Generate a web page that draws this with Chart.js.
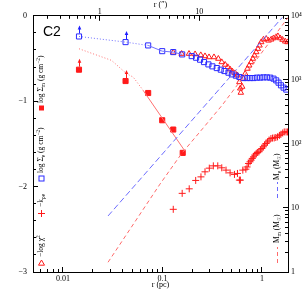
<!DOCTYPE html>
<html><head><meta charset="utf-8">
<script src="https://cdn.jsdelivr.net/npm/chart.js@4.4.1/dist/chart.umd.min.js"></script>
<style>html,body{margin:0;padding:0;background:#fff}canvas{display:block}</style>
</head><body>
<canvas id="c" width="305" height="305"></canvas>
<script>
// ---------- data ----------
// radii (pc) and log Sigma_e (blue open squares)
const rE = [0.0145, 0.0426, 0.0719, 0.0995, 0.1285, 0.158, 0.197, 0.218, 0.239, 0.262, 0.290, 0.318, 0.352, 0.386, 0.420, 0.461, 0.499, 0.547, 0.594, 0.653, 0.706, 0.762, 0.823, 0.891, 0.961, 1.038, 1.122, 1.212, 1.309, 1.393, 1.470, 1.555, 1.652, 1.758];
const sigmaE = [-0.242, -0.308, -0.347, -0.414, -0.425, -0.452, -0.472, -0.491, -0.514, -0.542, -0.569, -0.592, -0.612, -0.631, -0.647, -0.666, -0.686, -0.701, -0.717, -0.729, -0.729, -0.729, -0.729, -0.724, -0.724, -0.721, -0.721, -0.724, -0.736, -0.756, -0.783, -0.814, -0.841, -0.864];
const sigmaELineCount = 6;      // squares joined by the blue line
const sigmaEDottedUntil = 2;    // segments ending at index <= this are dotted
const sigmaELimits = [0, 1];    // lower limits (arrows)

// log Sigma_m (red filled squares)
const rM = [0.0145, 0.0426, 0.0719, 0.0995, 0.1285, 0.160];
const sigmaM = [-0.631, -0.764, -0.904, -1.223, -1.332, -1.605];
const sigmaMLimits = [0, 1];

// red model line
const rMLine = [0.0145, 0.0308, 0.0436, 0.0508, 0.0640, 0.1686];
const sigmaMLine = [-0.386, -0.522, -0.678, -0.717, -0.873, -1.585];
const sigmaMLineDottedUntil = 4;

// -log chi^2 (red open triangles)
const rChi = [0.1285, 0.156, 0.185, 0.213, 0.243, 0.268, 0.294, 0.330, 0.365, 0.395, 0.427, 0.454, 0.479, 0.505, 0.538, 0.567, 0.594, 0.606, 0.614, 0.633, 0.653, 0.679, 0.716, 0.745, 0.780, 0.811, 0.842, 0.877, 0.911, 0.946, 0.984, 1.038, 1.105, 1.166, 1.241, 1.309, 1.384, 1.449, 1.529, 1.613, 1.717, 1.811];
const logChi = [-0.429, -0.444, -0.444, -0.449, -0.460, -0.472, -0.484, -0.484, -0.502, -0.542, -0.572, -0.600, -0.627, -0.651, -0.671, -0.697, -0.776, -0.850, -0.900, -0.830, -0.736, -0.678, -0.619, -0.581, -0.542, -0.502, -0.464, -0.425, -0.386, -0.347, -0.308, -0.277, -0.269, -0.289, -0.277, -0.262, -0.250, -0.238, -0.262, -0.280, -0.300, -0.308];

// -k_rho,e (red plus)
const rK = [0.1285, 0.158, 0.186, 0.216, 0.244, 0.268, 0.296, 0.325, 0.360, 0.395, 0.436, 0.479, 0.530, 0.568, 0.594, 0.608, 0.643, 0.690, 0.710, 0.733, 0.760, 0.780, 0.800, 0.823, 0.850, 0.877, 0.900, 0.933, 0.970, 1.000, 1.030, 1.062, 1.100, 1.139, 1.180, 1.232, 1.280, 1.330, 1.380, 1.436, 1.500, 1.555, 1.620, 1.678, 1.750, 1.811];
const kRho = [-2.266, -2.079, -2.026, -1.928, -1.886, -1.827, -1.784, -1.757, -1.757, -1.780, -1.807, -1.839, -1.857, -1.846, -1.924, -1.924, -1.807, -1.796, -1.770, -1.729, -1.710, -1.690, -1.670, -1.652, -1.630, -1.612, -1.600, -1.593, -1.570, -1.554, -1.535, -1.515, -1.495, -1.477, -1.455, -1.437, -1.432, -1.430, -1.425, -1.418, -1.400, -1.387, -1.372, -1.360, -1.360, -1.360];

// enclosed masses (right axis, Msun)
const rMe = [0.0284, 1.60];
const massE = [7.5, 9400];
const rMm = [0.0284, 0.0944, 0.157, 0.256, 0.398, 1.60, 1.83];
const massM = [1.42, 23.5, 71.6, 176, 401, 7070, 9400];

// axes
const X_MIN = 0.005, X_MAX = 1.83;
const PC_PER_ARCSEC = 0.02344;
const xMajorTicks = [0.01, 0.1, 1];
const xTickLabels = ['0.01', '0.1', '1'];
const topMajorTicks = [1, 10];
const topTickLabels = ['1', '10'];
const yLeftMajor = [-3, -2, -1, 0];
const yLeftLabels = ['\u22123', '\u22122', '\u22121', '0'];
const yRightMajor = [1, 10, 100, 1000, 10000];
const yRightLabels = ['1', '10', '10\u00b2', '10\u00b3', '10\u2074'];

// ---------- helpers ----------
const pts = (xs, ys) => xs.map((x, i) => ({x: x, y: ys[i]}));
function logMinor(min, max) {
  const out = [];
  for (let e = Math.floor(Math.log10(min)); e <= Math.ceil(Math.log10(max)); e++) {
    for (let k = 1; k <= 9; k++) {
      const v = k * Math.pow(10, e);
      if (v >= min * 0.9999 && v <= max * 1.0001) out.push({value: v});
    }
  }
  return out;
}
const serif = 'Liberation Serif';
const tickFont = {family: serif, size: 8};
const RED = '#ff1a1a', BLUE = '#2b2bff';

function majorGrid() { return {drawOnChartArea: false, tickLength: -5, tickColor: '#000', tickWidth: 1}; }
function minorGrid() { return {drawOnChartArea: false, tickLength: -3, tickColor: '#000', tickWidth: 1}; }

// ---------- overlay: arrows, label, legends ----------
function arrow(ctx, x, yFrom, yTo, color) {
  ctx.save();
  ctx.strokeStyle = color; ctx.fillStyle = color; ctx.lineWidth = 1;
  ctx.beginPath(); ctx.moveTo(x, yFrom); ctx.lineTo(x, yTo + 3); ctx.stroke();
  ctx.beginPath(); ctx.moveTo(x, yTo); ctx.lineTo(x - 1.8, yTo + 4); ctx.lineTo(x + 1.8, yTo + 4); ctx.closePath(); ctx.fill();
  ctx.restore();
}
function vText(ctx, x, y, segs, size) {
  ctx.save(); ctx.translate(x, y); ctx.rotate(-Math.PI / 2);
  ctx.fillStyle = '#000'; ctx.textBaseline = 'middle'; ctx.textAlign = 'left';
  let cx = 0;
  for (const s of segs) {
    const fs = (s.sub || s.sup) ? size * 0.72 : size;
    ctx.font = fs + 'px "' + serif + '"';
    const dy = s.sub ? size * 0.3 : (s.sup ? -size * 0.35 : 0);
    ctx.fillText(s.t, cx, dy);
    cx += ctx.measureText(s.t).width;
  }
  ctx.restore();
}
function marker(ctx, kind, x, y, color) {
  ctx.save(); ctx.strokeStyle = color; ctx.fillStyle = color; ctx.lineWidth = 1;
  ctx.beginPath();
  if (kind === 'rectFill') { ctx.fillRect(x - 2.5, y - 2.5, 5, 5); }
  else if (kind === 'rect') { ctx.strokeRect(x - 2.5, y - 2.5, 5, 5); }
  else if (kind === 'cross') { ctx.moveTo(x - 3.5, y); ctx.lineTo(x + 3.5, y); ctx.moveTo(x, y - 3.5); ctx.lineTo(x, y + 3.5); ctx.stroke(); }
  else if (kind === 'tri') { ctx.moveTo(x, y - 3); ctx.lineTo(x - 3, y + 2.2); ctx.lineTo(x + 3, y + 2.2); ctx.closePath(); ctx.stroke(); }
  else if (kind === 'dash') { ctx.setLineDash([4, 3]); ctx.moveTo(x, y); ctx.lineTo(x, y - 16); ctx.stroke(); }
  ctx.restore();
}
const overlay = {
  id: 'overlay',
  afterDatasetsDraw(chart) {
    const ctx = chart.ctx;
    chart.data.datasets.forEach((ds, i) => {
      if (!ds.limitIdx) return;
      const meta = chart.getDatasetMeta(i);
      ds.limitIdx.forEach(j => {
        const el = meta.data[j];
        arrow(ctx, Math.round(el.x) + 0.5, el.y - 3, el.y - 11, ds.arrowColor);
      });
    });
  },
  afterDraw(chart) {
    const ctx = chart.ctx, a = chart.chartArea;
    ctx.save();
    ctx.fillStyle = '#000'; ctx.font = '14px "Liberation Sans"'; ctx.textBaseline = 'alphabetic'; ctx.textAlign = 'left';
    ctx.fillText('C2', a.left + 10, a.top + 20);
    ctx.restore();
    const lx = a.left + 8.5;
    const fs = 7.5;
    marker(ctx, 'rectFill', lx, 108, RED);
    vText(ctx, lx, 103, [{t: 'log \u03a3'}, {t: 'm', sub: 1}, {t: ' (g cm'}, {t: '\u22122', sup: 1}, {t: ')'}], fs);
    marker(ctx, 'rect', lx, 178.5, BLUE);
    vText(ctx, lx, 173, [{t: 'log \u03a3'}, {t: 'e', sub: 1}, {t: ' (g cm'}, {t: '\u22122', sup: 1}, {t: ')'}], fs);
    marker(ctx, 'cross', lx, 213.5, RED);
    vText(ctx, lx, 207, [{t: '\u2212k'}, {t: '\u03c1e', sub: 1}], fs);
    marker(ctx, 'tri', lx, 263, RED);
    vText(ctx, lx, 257, [{t: '\u2212log \u03c7'}, {t: '2', sup: 1}], fs);
    const rx = 277.5;
    marker(ctx, 'dash', rx, 198, '#6b6bff');
    vText(ctx, rx, 180, [{t: 'M'}, {t: 'e', sub: 1}, {t: ' (M'}, {t: '\u2609', sub: 1}, {t: ')'}], fs);
    marker(ctx, 'dash', rx, 263, '#ff6a6a');
    vText(ctx, rx, 243, [{t: 'M'}, {t: 'm', sub: 1}, {t: ' (M'}, {t: '\u2609', sub: 1}, {t: ')'}], fs);
  }
};

// ---------- chart ----------
new Chart(document.getElementById('c'), {
  type: 'scatter',
  data: {
    datasets: [
      { // M_e dashed
        data: pts(rMe, massE), yAxisID: 'yR', showLine: true, pointRadius: 0,
        borderColor: '#6b6bff', borderWidth: 1, borderDash: [6, 3]
      },
      { // M_m dashed
        data: pts(rMm, massM), yAxisID: 'yR', showLine: true, pointRadius: 0,
        borderColor: '#ff6a6a', borderWidth: 1, borderDash: [4, 3]
      },
      { // blue line joining the first squares
        data: pts(rE.slice(0, sigmaELineCount), sigmaE.slice(0, sigmaELineCount)), showLine: true, pointRadius: 0,
        borderColor: '#6f6fff', borderWidth: 1,
        segment: { borderDash: c => c.p1DataIndex <= sigmaEDottedUntil ? [1, 2] : undefined }
      },
      { // red model line
        data: pts(rMLine, sigmaMLine), showLine: true, pointRadius: 0,
        borderColor: '#ff7070', borderWidth: 1,
        segment: { borderDash: c => c.p1DataIndex <= sigmaMLineDottedUntil ? [1, 2] : undefined }
      },
      { // -k_rho,e
        data: pts(rK, kRho), pointStyle: 'cross', pointRadius: 3.5, borderColor: RED, borderWidth: 1,
        backgroundColor: 'rgba(0,0,0,0)'
      },
      { // log Sigma_e
        data: pts(rE, sigmaE), pointStyle: 'rect', pointRadius: 3.6, borderColor: BLUE, borderWidth: 1,
        backgroundColor: 'rgba(0,0,0,0)', limitIdx: sigmaELimits, arrowColor: '#1f1fff'
      },
      { // -log chi^2
        data: pts(rChi, logChi), pointStyle: 'triangle', pointRadius: 3.2, borderColor: RED, borderWidth: 1,
        backgroundColor: 'rgba(0,0,0,0)'
      },
      { // log Sigma_m
        data: pts(rM, sigmaM), pointStyle: 'rect', pointRadius: 3.6, borderColor: RED, borderWidth: 1,
        backgroundColor: RED, limitIdx: sigmaMLimits, arrowColor: RED
      }
    ]
  },
  options: {
    responsive: false, animation: false, events: [],
    layout: {padding: 0},
    plugins: {legend: {display: false}, tooltip: {enabled: false}},
    scales: {
      x: {
        type: 'logarithmic', position: 'bottom', weight: 1, min: X_MIN, max: X_MAX,
        afterFit: s => { s.height = 33; },
        afterBuildTicks: s => { s.ticks = xMajorTicks.map(v => ({value: v})); },
        ticks: {callback: (v, i) => xTickLabels[i], font: tickFont, color: '#000', padding: 7, maxRotation: 0, autoSkip: false},
        grid: majorGrid(), border: {display: true, color: '#000', width: 1},
        title: {display: true, text: 'r (pc)', color: '#000', font: {family: serif, size: 8, lineHeight: 1}, padding: {top: 0, bottom: 16}}
      },
      xMinor: {
        type: 'logarithmic', position: 'bottom', weight: 0, min: X_MIN, max: X_MAX,
        afterFit: s => { s.height = 0; },
        afterBuildTicks: s => { s.ticks = logMinor(X_MIN, X_MAX); },
        ticks: {display: false}, grid: minorGrid(), border: {display: false}
      },
      xTop: {
        type: 'logarithmic', position: 'top', weight: 1, min: X_MIN / PC_PER_ARCSEC, max: X_MAX / PC_PER_ARCSEC,
        afterFit: s => { s.height = 15; },
        afterBuildTicks: s => { s.ticks = topMajorTicks.map(v => ({value: v})); },
        ticks: {callback: (v, i) => topTickLabels[i], font: tickFont, color: '#000', padding: 4, maxRotation: 0, autoSkip: false},
        grid: majorGrid(), border: {display: true, color: '#000', width: 1},
        title: {display: true, text: 'r (\u2033)', color: '#000', font: {family: serif, size: 8, lineHeight: 1}, padding: {top: 0, bottom: 0}}
      },
      xTopMinor: {
        type: 'logarithmic', position: 'top', weight: 0, min: X_MIN / PC_PER_ARCSEC, max: X_MAX / PC_PER_ARCSEC,
        afterFit: s => { s.height = 0; },
        afterBuildTicks: s => { s.ticks = logMinor(X_MIN / PC_PER_ARCSEC, X_MAX / PC_PER_ARCSEC); },
        ticks: {display: false}, grid: minorGrid(), border: {display: false}
      },
      y: {
        type: 'linear', position: 'left', weight: 1, min: -3, max: 0,
        afterFit: s => { s.width = 33; },
        afterBuildTicks: s => { s.ticks = yLeftMajor.map(v => ({value: v})); },
        ticks: {callback: (v, i) => yLeftLabels[i], font: tickFont, color: '#000', padding: 11, autoSkip: false},
        grid: majorGrid(), border: {display: true, color: '#000', width: 1}
      },
      yMinor: {
        type: 'linear', position: 'left', weight: 0, min: -3, max: 0,
        afterFit: s => { s.width = 0; },
        ticks: {display: false, stepSize: 0.2}, grid: minorGrid(), border: {display: false}
      },
      yR: {
        type: 'logarithmic', position: 'right', weight: 1, min: 1, max: 10000,
        afterFit: s => { s.width = 17; },
        afterBuildTicks: s => { s.ticks = yRightMajor.map(v => ({value: v})); },
        ticks: {callback: (v, i) => yRightLabels[i], font: tickFont, color: '#000', padding: 8, autoSkip: false},
        grid: majorGrid(), border: {display: true, color: '#000', width: 1}
      },
      yRMinor: {
        type: 'logarithmic', position: 'right', weight: 0, min: 1, max: 10000,
        afterFit: s => { s.width = 0; },
        afterBuildTicks: s => { s.ticks = logMinor(1, 10000); },
        ticks: {display: false}, grid: minorGrid(), border: {display: false}
      }
    }
  },
  plugins: [overlay]
});
</script>
</body></html>
